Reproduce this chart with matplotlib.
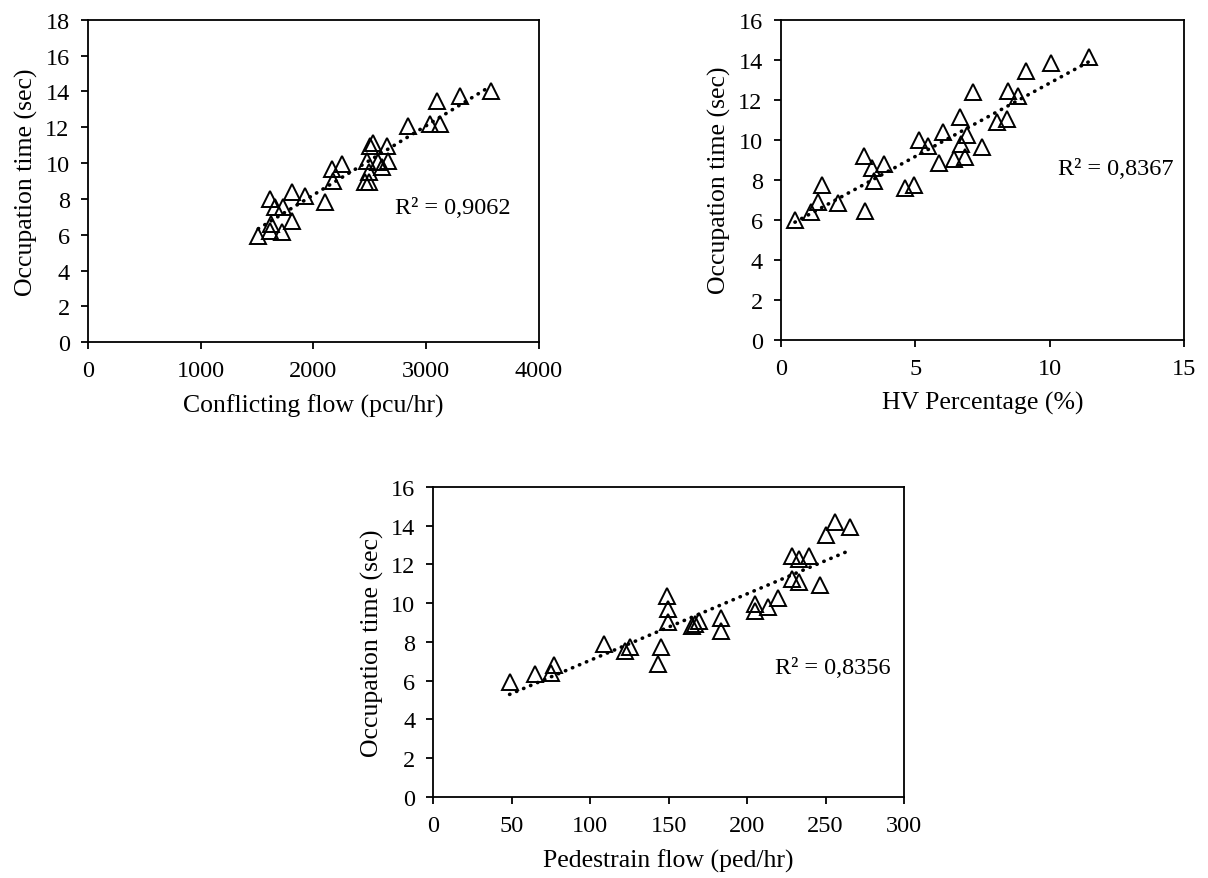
import numpy as np
import matplotlib
matplotlib.use("Agg")
import matplotlib.pyplot as plt

# --- data ---
conflicting_flow = [1512, 1616, 1720, 1622, 1616, 1661, 1734, 1809, 1809, 1926,
                    2104, 2163, 2172, 2252, 2458, 2496, 2473, 2496, 2503, 2532,
                    2577, 2606, 2651, 2665, 2842, 3035, 3123, 3099, 3300, 3573]
occ_conflicting = [5.95, 6.22, 6.13, 6.60, 7.99, 7.53, 7.53, 6.78, 8.37, 8.18,
                   7.81, 9.67, 9.01, 9.94, 8.96, 8.96, 10.13, 9.48, 10.96, 11.15,
                   10.04, 9.76, 10.96, 10.13, 12.08, 12.17, 12.17, 13.47, 13.75, 14.03]

hv_percentage = [0.53, 1.12, 1.40, 1.55, 2.12, 3.14, 3.11, 3.39, 3.48, 3.84,
                 4.63, 4.96, 5.15, 5.49, 5.87, 6.05, 6.45, 6.65, 6.71, 6.86,
                 6.92, 7.15, 7.48, 8.04, 8.43, 8.47, 8.84, 9.13, 10.06, 11.45]
occ_hv = [5.99, 6.37, 6.90, 7.75, 6.84, 6.45, 9.20, 8.57, 7.92, 8.79,
          7.57, 7.75, 9.99, 9.67, 8.84, 10.37, 9.04, 11.15, 9.79, 9.12,
          10.24, 12.40, 9.62, 10.90, 11.04, 12.42, 12.20, 13.42, 13.84, 14.12]

ped_flow = [48.6, 65.1, 75.1, 77.2, 108.9, 122.0, 125.2, 143.3, 144.8, 149.0,
            149.7, 149.7, 164.9, 167.0, 169.1, 183.3, 183.3, 205.1, 205.1, 213.5,
            219.4, 228.9, 233.0, 239.5, 228.9, 233.0, 246.7, 250.1, 255.8, 265.7]
occ_ped = [5.92, 6.35, 6.40, 6.83, 7.90, 7.55, 7.73, 6.86, 7.76, 10.39,
           9.70, 9.02, 8.84, 8.93, 9.10, 9.22, 8.58, 9.96, 9.62, 9.79,
           10.26, 12.45, 12.28, 12.45, 11.25, 11.08, 10.94, 13.52, 14.21, 13.92]

r2_labels = ["R\u00b2 = 0,9062", "R\u00b2 = 0,8367", "R\u00b2 = 0,8356"]
x_labels = ["Conflicting flow (pcu/hr)", "HV Percentage (%)", "Pedestrain flow (ped/hr)"]
y_label = "Occupation time (sec)"

plt.rcParams['font.family'] = ['Liberation Serif', 'DejaVu Serif']
plt.rcParams['font.size'] = 17

fig = plt.figure(figsize=(12.08, 8.79), dpi=100)

# axes boxes placed like the original figure
ax1 = fig.add_axes([0.0726, 0.6094, 0.3736, 0.3670])
ax2 = fig.add_axes([0.6463, 0.6124, 0.3339, 0.3641])
ax3 = fig.add_axes([0.3587, 0.0922, 0.3897, 0.3527])

panels = [
    (ax1, conflicting_flow, occ_conflicting, (0, 4000), 1000, (0, 18), (2724, 7.55)),
    (ax2, hv_percentage, occ_hv, (0, 15), 5, (0, 16), (10.32, 8.54)),
    (ax3, ped_flow, occ_ped, (0, 300), 50, (0, 16), (217.6, 6.67)),
]

for i, (ax, xs, ys, xlim, xstep, ylim, txt_pos) in enumerate(panels):
    xs = np.array(xs)
    ys = np.array(ys)

    ax.plot(xs, ys, linestyle='none', marker='^', markersize=11,
            markerfacecolor='none', markeredgecolor='black', markeredgewidth=1.4)

    # linear trendline over the data range
    k, b = np.polyfit(xs, ys, 1)
    tx = np.array([xs.min(), xs.max()])
    ax.plot(tx, k * tx + b, color='black', linewidth=2.6,
            linestyle=(0, (0.1, 2.0)), dash_capstyle='round')

    ax.text(txt_pos[0], txt_pos[1], r2_labels[i], ha='left', va='center', fontsize=17.5)

    ax.set_xlim(*xlim)
    ax.set_ylim(*ylim)
    ax.set_xticks(np.arange(xlim[0], xlim[1] + xstep, xstep))
    ax.set_yticks(np.arange(ylim[0], ylim[1] + 2, 2))
    ax.tick_params(direction='out', length=5, width=1.3, pad=8, labelsize=17.5)
    for sp in ax.spines.values():
        sp.set_linewidth(1.3)
    ax.set_xlabel(x_labels[i], fontsize=18.5, labelpad=9)
    ax.set_ylabel(y_label, fontsize=18.5, labelpad=5)

plt.savefig('out.png', dpi=100)
